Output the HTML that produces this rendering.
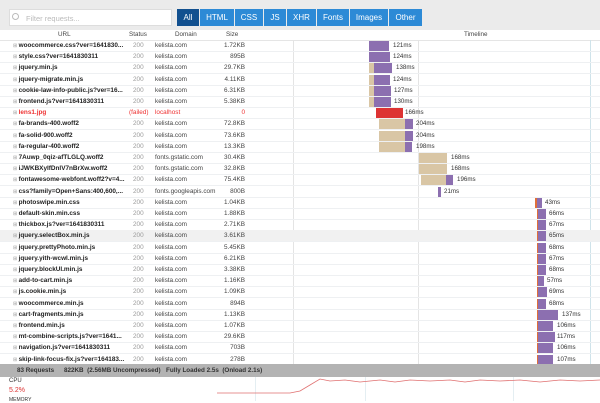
<!DOCTYPE html><html><head><meta charset="utf-8"><style>
body{margin:0;width:600px;height:401px;overflow:hidden;background:#fff;font-family:"Liberation Sans",sans-serif;position:relative}
.a{position:absolute;white-space:nowrap}
.r{position:absolute;left:0;width:600px;height:11px;border-bottom:1px solid #eef0f2;font-size:6.4px;line-height:11px}
.r span{position:absolute}
.u{left:13px;font-weight:bold;color:#222}
.u:before{content:"⊞ ";color:#999;font-weight:normal;font-size:5px}
.s{left:133px;color:#999}.d{left:155px;color:#444}.z{right:355px;color:#444}
.b{position:absolute;top:1px;height:10px}
.t{background:#d9c6a5}.p{background:#8c6fb0}.red{background:#d33}.o{background:#e0703a}
.l{color:#333;font-size:6.2px}
.btn{position:absolute;top:9px;height:17px;background:#2d8ad6;color:#fff;font-size:8px;line-height:17px;text-align:center}
</style></head><body>
<div class="a" style="left:0;top:0;width:600px;height:30px;background:#ebebeb"></div>
<div class="a" style="left:9px;top:9px;width:163px;height:17px;background:#fff;border:1px solid #ddd;color:#bbb;font-size:7.5px;line-height:17px;padding-left:16px;box-sizing:border-box">Filter requests...</div>
<div class="a" style="left:12px;top:13px;width:5px;height:5px;border:1px solid #bbb;border-radius:50%"></div>
<div class="btn" style="left:177px;width:22px;background:#12508f">All</div>
<div class="btn" style="left:200px;width:34px">HTML</div>
<div class="btn" style="left:235px;width:28px">CSS</div>
<div class="btn" style="left:264px;width:22px">JS</div>
<div class="btn" style="left:287px;width:29px">XHR</div>
<div class="btn" style="left:317px;width:32px">Fonts</div>
<div class="btn" style="left:350px;width:38px">Images</div>
<div class="btn" style="left:389px;width:33px">Other</div>
<div class="a" style="left:0;top:30px;width:600px;height:10px;font-size:6.3px;color:#444;border-bottom:1px solid #e5e5e5;line-height:10px">
<span class="a" style="left:58px">URL</span><span class="a" style="left:129px">Status</span><span class="a" style="left:175px">Domain</span><span class="a" style="left:226px">Size</span><span class="a" style="left:464px">Timeline</span></div>
<div class="a" style="left:293px;top:40px;width:1px;height:324px;background:#e4e4e4"></div>
<div class="a" style="left:418px;top:40px;width:1px;height:324px;background:#e4e4e4"></div>
<div class="a" style="left:590px;top:40px;width:1px;height:324px;background:#cfe3ea"></div>

<div class="r" style="top:40px"><span class="u">woocommerce.css?ver=1641830...</span><span class="s">200</span><span class="d">kelista.com</span><span class="z">1.72KB</span><span class="b p" style="left:369px;width:20px"></span><span class="l" style="left:393px">121ms</span></div>
<div class="r" style="top:51.2px"><span class="u">style.css?ver=1641830311</span><span class="s">200</span><span class="d">kelista.com</span><span class="z">895B</span><span class="b p" style="left:369px;width:21px"></span><span class="l" style="left:393px">124ms</span></div>
<div class="r" style="top:62.4px"><span class="u">jquery.min.js</span><span class="s">200</span><span class="d">kelista.com</span><span class="z">29.7KB</span><span class="b t" style="left:369px;width:5px"></span><span class="b p" style="left:374px;width:18px"></span><span class="l" style="left:396px">138ms</span></div>
<div class="r" style="top:73.6px"><span class="u">jquery-migrate.min.js</span><span class="s">200</span><span class="d">kelista.com</span><span class="z">4.11KB</span><span class="b t" style="left:369px;width:5px"></span><span class="b p" style="left:374px;width:16px"></span><span class="l" style="left:393px">124ms</span></div>
<div class="r" style="top:84.8px"><span class="u">cookie-law-info-public.js?ver=16...</span><span class="s">200</span><span class="d">kelista.com</span><span class="z">6.31KB</span><span class="b t" style="left:369px;width:5px"></span><span class="b p" style="left:374px;width:17px"></span><span class="l" style="left:394px">127ms</span></div>
<div class="r" style="top:96px"><span class="u">frontend.js?ver=1641830311</span><span class="s">200</span><span class="d">kelista.com</span><span class="z">5.38KB</span><span class="b t" style="left:369px;width:5px"></span><span class="b p" style="left:374px;width:17px"></span><span class="l" style="left:394px">130ms</span></div>
<div class="r" style="top:107.2px"><span class="u" style="color:#e33">lens1.jpg</span><span class="s" style="color:#e33;left:129px">(failed)</span><span class="d" style="color:#e33">localhost</span><span class="z" style="color:#e33">0</span><span class="b red" style="left:376px;width:27px"></span><span class="l" style="left:405px">166ms</span></div>
<div class="r" style="top:118.4px"><span class="u">fa-brands-400.woff2</span><span class="s">200</span><span class="d">kelista.com</span><span class="z">72.8KB</span><span class="b t" style="left:379px;width:26px"></span><span class="b p" style="left:405px;width:8px"></span><span class="l" style="left:416px">204ms</span></div>
<div class="r" style="top:129.6px"><span class="u">fa-solid-900.woff2</span><span class="s">200</span><span class="d">kelista.com</span><span class="z">73.6KB</span><span class="b t" style="left:379px;width:26px"></span><span class="b p" style="left:405px;width:8px"></span><span class="l" style="left:416px">204ms</span></div>
<div class="r" style="top:140.8px"><span class="u">fa-regular-400.woff2</span><span class="s">200</span><span class="d">kelista.com</span><span class="z">13.3KB</span><span class="b t" style="left:379px;width:26px"></span><span class="b p" style="left:405px;width:7px"></span><span class="l" style="left:416px">198ms</span></div>
<div class="r" style="top:152px"><span class="u">7Auwp_0qiz-afTLGLQ.woff2</span><span class="s">200</span><span class="d">fonts.gstatic.com</span><span class="z">30.4KB</span><span class="b t" style="left:419px;width:28px"></span><span class="l" style="left:451px">168ms</span></div>
<div class="r" style="top:163.2px"><span class="u">iJWKBXyIfDnIV7nBrXw.woff2</span><span class="s">200</span><span class="d">fonts.gstatic.com</span><span class="z">32.8KB</span><span class="b t" style="left:419px;width:28px"></span><span class="l" style="left:451px">168ms</span></div>
<div class="r" style="top:174.4px"><span class="u">fontawesome-webfont.woff2?v=4...</span><span class="s">200</span><span class="d">kelista.com</span><span class="z">75.4KB</span><span class="b t" style="left:421px;width:25px"></span><span class="b p" style="left:446px;width:7px"></span><span class="l" style="left:457px">196ms</span></div>
<div class="r" style="top:185.6px"><span class="u">css?family=Open+Sans:400,600,...</span><span class="s">200</span><span class="d">fonts.googleapis.com</span><span class="z">800B</span><span class="b p" style="left:438px;width:3px"></span><span class="l" style="left:444px">21ms</span></div>
<div class="r" style="top:196.8px"><span class="u">photoswipe.min.css</span><span class="s">200</span><span class="d">kelista.com</span><span class="z">1.04KB</span><span class="b o" style="left:535px;width:2px"></span><span class="b p" style="left:537px;width:5px"></span><span class="l" style="left:545px">43ms</span></div>
<div class="r" style="top:208px"><span class="u">default-skin.min.css</span><span class="s">200</span><span class="d">kelista.com</span><span class="z">1.88KB</span><span class="b o" style="left:537px;width:1px"></span><span class="b p" style="left:538px;width:8px"></span><span class="l" style="left:549px">66ms</span></div>
<div class="r" style="top:219.2px"><span class="u">thickbox.js?ver=1641830311</span><span class="s">200</span><span class="d">kelista.com</span><span class="z">2.71KB</span><span class="b o" style="left:537px;width:1px"></span><span class="b p" style="left:538px;width:8px"></span><span class="l" style="left:549px">67ms</span></div>
<div class="r" style="top:230.4px;background:#f1f1f1"><span class="u">jquery.selectBox.min.js</span><span class="s">200</span><span class="d">kelista.com</span><span class="z">3.61KB</span><span class="b o" style="left:537px;width:1px"></span><span class="b p" style="left:538px;width:8px"></span><span class="l" style="left:549px">65ms</span></div>
<div class="r" style="top:241.6px"><span class="u">jquery.prettyPhoto.min.js</span><span class="s">200</span><span class="d">kelista.com</span><span class="z">5.45KB</span><span class="b o" style="left:537px;width:1px"></span><span class="b p" style="left:538px;width:8px"></span><span class="l" style="left:549px">68ms</span></div>
<div class="r" style="top:252.8px"><span class="u">jquery.yith-wcwl.min.js</span><span class="s">200</span><span class="d">kelista.com</span><span class="z">6.21KB</span><span class="b o" style="left:537px;width:1px"></span><span class="b p" style="left:538px;width:8px"></span><span class="l" style="left:549px">67ms</span></div>
<div class="r" style="top:264px"><span class="u">jquery.blockUI.min.js</span><span class="s">200</span><span class="d">kelista.com</span><span class="z">3.38KB</span><span class="b o" style="left:537px;width:1px"></span><span class="b p" style="left:538px;width:8px"></span><span class="l" style="left:549px">68ms</span></div>
<div class="r" style="top:275.2px"><span class="u">add-to-cart.min.js</span><span class="s">200</span><span class="d">kelista.com</span><span class="z">1.16KB</span><span class="b o" style="left:537px;width:1px"></span><span class="b p" style="left:538px;width:6px"></span><span class="l" style="left:547px">57ms</span></div>
<div class="r" style="top:286.4px"><span class="u">js.cookie.min.js</span><span class="s">200</span><span class="d">kelista.com</span><span class="z">1.09KB</span><span class="b o" style="left:537px;width:1px"></span><span class="b p" style="left:538px;width:9px"></span><span class="l" style="left:549px">69ms</span></div>
<div class="r" style="top:297.6px"><span class="u">woocommerce.min.js</span><span class="s">200</span><span class="d">kelista.com</span><span class="z">894B</span><span class="b o" style="left:537px;width:1px"></span><span class="b p" style="left:538px;width:8px"></span><span class="l" style="left:549px">68ms</span></div>
<div class="r" style="top:308.8px"><span class="u">cart-fragments.min.js</span><span class="s">200</span><span class="d">kelista.com</span><span class="z">1.13KB</span><span class="b o" style="left:537px;width:1px"></span><span class="b p" style="left:538px;width:20px"></span><span class="l" style="left:562px">137ms</span></div>
<div class="r" style="top:320px"><span class="u">frontend.min.js</span><span class="s">200</span><span class="d">kelista.com</span><span class="z">1.07KB</span><span class="b o" style="left:537px;width:1px"></span><span class="b p" style="left:538px;width:15px"></span><span class="l" style="left:557px">106ms</span></div>
<div class="r" style="top:331.2px"><span class="u">mt-combine-scripts.js?ver=1641...</span><span class="s">200</span><span class="d">kelista.com</span><span class="z">29.6KB</span><span class="b o" style="left:537px;width:1px"></span><span class="b p" style="left:538px;width:17px"></span><span class="l" style="left:557px">117ms</span></div>
<div class="r" style="top:342.4px"><span class="u">navigation.js?ver=1641830311</span><span class="s">200</span><span class="d">kelista.com</span><span class="z">703B</span><span class="b o" style="left:537px;width:1px"></span><span class="b p" style="left:538px;width:15px"></span><span class="l" style="left:557px">106ms</span></div>
<div class="r" style="top:353.6px"><span class="u">skip-link-focus-fix.js?ver=164183...</span><span class="s">200</span><span class="d">kelista.com</span><span class="z">278B</span><span class="b o" style="left:537px;width:1px"></span><span class="b p" style="left:538px;width:15px"></span><span class="l" style="left:557px">107ms</span></div>

<div class="a" style="left:0;top:364px;width:600px;height:13px;background:#b3b3b3;font-size:6.3px;font-weight:bold;color:#333;line-height:13px">
<span class="a" style="left:17px">83 Requests</span><span class="a" style="left:64px">822KB &nbsp;(2.56MB Uncompressed)</span><span class="a" style="left:166px">Fully Loaded 2.5s &nbsp;(Onload 2.1s)</span></div>
<div class="a" style="left:9px;top:378px;font-size:6px;color:#333">CPU</div>
<div class="a" style="left:9px;top:387px;font-size:7px;color:#d33">5.2%</div>
<div class="a" style="left:9px;top:397px;font-size:5px;color:#333">MEMORY</div>
<div class="a" style="left:255px;top:377px;width:1px;height:24px;background:#e4eef2"></div>
<div class="a" style="left:365px;top:377px;width:1px;height:24px;background:#e4eef2"></div>
<div class="a" style="left:513px;top:377px;width:1px;height:24px;background:#e4eef2"></div>
<svg class="a" style="left:0;top:377px" width="600" height="24"><path d="M217 16 L290 16 L300 14 L310 8 L320 2 L330 4 L345 3 L360 5 L380 3 L395 5 L410 3 L430 4 L450 3 L465 5 L480 3 L500 4 L520 3 L540 5 L560 3 L580 4 L600 3" fill="none" stroke="#e07070" stroke-width="0.8"/></svg>
</body></html>
